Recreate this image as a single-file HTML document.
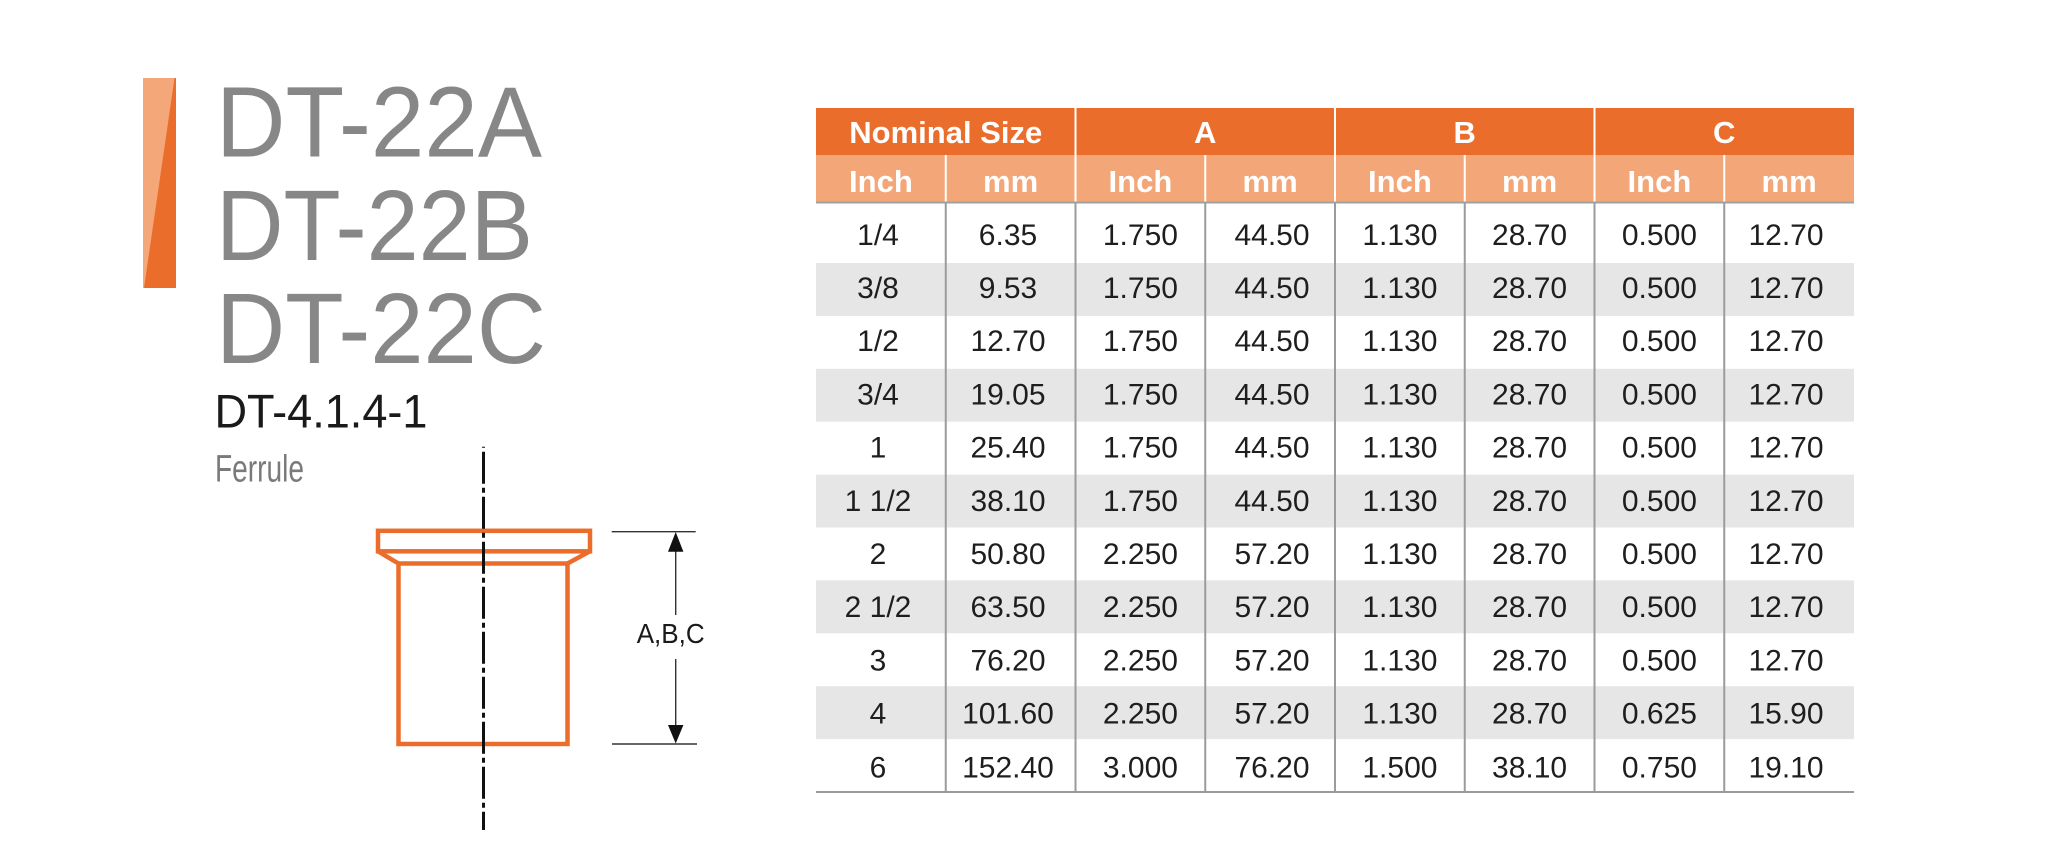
<!DOCTYPE html>
<html>
<head>
<meta charset="utf-8">
<style>
  html,body{margin:0;padding:0;background:#fff;}
  svg{display:block;}
  .t{font-family:"Liberation Sans",sans-serif;}
</style>
</head>
<body>
<svg width="2048" height="868" viewBox="0 0 2048 868" xmlns="http://www.w3.org/2000/svg">
  <rect x="0" y="0" width="2048" height="868" fill="#fff"/>

  <!-- Orange bar -->
  <rect x="143" y="78" width="33" height="210" fill="#f4a87a"/>
  <polygon points="174.5,78 176,78 176,288 144,288" fill="#eb6d2b"/>

  <!-- Titles -->
  <g class="t" fill="#878787" font-size="100">
    <text x="216" y="156.7" textLength="326" lengthAdjust="spacingAndGlyphs">DT-22A</text>
    <text x="216" y="260" textLength="317" lengthAdjust="spacingAndGlyphs">DT-22B</text>
    <text x="216" y="363" textLength="330" lengthAdjust="spacingAndGlyphs">DT-22C</text>
  </g>
  <text class="t" x="214.5" y="427.3" font-size="47.6" fill="#1a1a1a" textLength="213" lengthAdjust="spacingAndGlyphs">DT-4.1.4-1</text>
  <text class="t" x="215" y="481.7" font-size="38" fill="#7a7a7a" textLength="89" lengthAdjust="spacingAndGlyphs">Ferrule</text>

  <!-- Ferrule drawing -->
  <g fill="none" stroke="#ec6d2b" stroke-width="4.5" stroke-linejoin="miter">
    <rect x="378" y="530.8" width="212" height="20.5"/>
    <path d="M378,551.3 L398.5,563.5 L398.5,744 L567.5,744 L567.5,563.5 L590,551.3"/>
    <line x1="398.5" y1="563.5" x2="567.5" y2="563.5"/>
  </g>
  <line x1="483.5" y1="446.7" x2="483.5" y2="830" stroke="#111" stroke-width="3" stroke-dasharray="32 4 5 4" stroke-dashoffset="40"/>

  <!-- Dimension -->
  <g stroke="#333" stroke-width="1.4">
    <line x1="611.7" y1="531.7" x2="695.7" y2="531.7"/>
    <line x1="612" y1="744" x2="697" y2="744"/>
    <line x1="675.7" y1="550" x2="675.7" y2="615"/>
    <line x1="675.7" y1="659" x2="675.7" y2="726"/>
  </g>
  <polygon points="675.7,532 668,551.7 683.4,551.7" fill="#111"/>
  <polygon points="675.7,743.5 668,725 683.4,725" fill="#111"/>
  <text class="t" x="636.7" y="643" font-size="28" fill="#1a1a1a" textLength="68" lengthAdjust="spacingAndGlyphs">A,B,C</text>

  <!-- Table header -->
  <rect x="816" y="108" width="1038" height="47" fill="#eb6d2c"/>
  <rect x="816" y="155" width="1038" height="47" fill="#f3a779"/>
  <g stroke="#fff" stroke-width="2">
    <line x1="1075.5" y1="108" x2="1075.5" y2="202"/>
    <line x1="1335" y1="108" x2="1335" y2="202"/>
    <line x1="1594.5" y1="108" x2="1594.5" y2="202"/>
    <line x1="945.75" y1="155" x2="945.75" y2="202"/>
    <line x1="1205.25" y1="155" x2="1205.25" y2="202"/>
    <line x1="1464.75" y1="155" x2="1464.75" y2="202"/>
    <line x1="1724.25" y1="155" x2="1724.25" y2="202"/>
  </g>
  <g class="t" fill="#fff" font-size="31" font-weight="bold" text-anchor="middle">
    <text x="945.75" y="143">Nominal Size</text>
    <text x="1205.25" y="143">A</text>
    <text x="1464.75" y="143">B</text>
    <text x="1724.25" y="143">C</text>
    <text x="880.9" y="192">Inch</text>
    <text x="1010.6" y="192">mm</text>
    <text x="1140.4" y="192">Inch</text>
    <text x="1270.1" y="192">mm</text>
    <text x="1399.9" y="192">Inch</text>
    <text x="1529.6" y="192">mm</text>
    <text x="1659.4" y="192">Inch</text>
    <text x="1789.1" y="192">mm</text>
  </g>

  <!-- Gray bands -->
  <g fill="#e6e6e6">
    <rect x="816" y="263" width="1038" height="52.9"/>
    <rect x="816" y="368.8" width="1038" height="52.9"/>
    <rect x="816" y="474.6" width="1038" height="52.9"/>
    <rect x="816" y="580.4" width="1038" height="52.9"/>
    <rect x="816" y="686.2" width="1038" height="52.9"/>
  </g>

  <!-- Lines -->
  <line x1="816" y1="202.5" x2="1854" y2="202.5" stroke="#a0a0a0" stroke-width="2"/>
  <line x1="816" y1="792" x2="1854" y2="792" stroke="#9a9a9a" stroke-width="2"/>
  <g stroke="#9b9b9b" stroke-width="2">
    <line x1="945.75" y1="203" x2="945.75" y2="791"/>
    <line x1="1075.5" y1="203" x2="1075.5" y2="791"/>
    <line x1="1205.25" y1="203" x2="1205.25" y2="791"/>
    <line x1="1335" y1="203" x2="1335" y2="791"/>
    <line x1="1464.75" y1="203" x2="1464.75" y2="791"/>
    <line x1="1594.5" y1="203" x2="1594.5" y2="791"/>
    <line x1="1724.25" y1="203" x2="1724.25" y2="791"/>
  </g>

  <!-- Data -->
  <g class="t" fill="#1e1e1e" font-size="30" text-anchor="middle">
    <g transform="translate(0,244.8)">
      <text x="878">1/4</text><text x="1008">6.35</text><text x="1140.4">1.750</text><text x="1272">44.50</text><text x="1399.9">1.130</text><text x="1529.6">28.70</text><text x="1659.4">0.500</text><text x="1786">12.70</text>
    </g>
    <g transform="translate(0,298)">
      <text x="878">3/8</text><text x="1008">9.53</text><text x="1140.4">1.750</text><text x="1272">44.50</text><text x="1399.9">1.130</text><text x="1529.6">28.70</text><text x="1659.4">0.500</text><text x="1786">12.70</text>
    </g>
    <g transform="translate(0,351.2)">
      <text x="878">1/2</text><text x="1008">12.70</text><text x="1140.4">1.750</text><text x="1272">44.50</text><text x="1399.9">1.130</text><text x="1529.6">28.70</text><text x="1659.4">0.500</text><text x="1786">12.70</text>
    </g>
    <g transform="translate(0,404.4)">
      <text x="878">3/4</text><text x="1008">19.05</text><text x="1140.4">1.750</text><text x="1272">44.50</text><text x="1399.9">1.130</text><text x="1529.6">28.70</text><text x="1659.4">0.500</text><text x="1786">12.70</text>
    </g>
    <g transform="translate(0,457.6)">
      <text x="878">1</text><text x="1008">25.40</text><text x="1140.4">1.750</text><text x="1272">44.50</text><text x="1399.9">1.130</text><text x="1529.6">28.70</text><text x="1659.4">0.500</text><text x="1786">12.70</text>
    </g>
    <g transform="translate(0,510.8)">
      <text x="878">1 1/2</text><text x="1008">38.10</text><text x="1140.4">1.750</text><text x="1272">44.50</text><text x="1399.9">1.130</text><text x="1529.6">28.70</text><text x="1659.4">0.500</text><text x="1786">12.70</text>
    </g>
    <g transform="translate(0,564)">
      <text x="878">2</text><text x="1008">50.80</text><text x="1140.4">2.250</text><text x="1272">57.20</text><text x="1399.9">1.130</text><text x="1529.6">28.70</text><text x="1659.4">0.500</text><text x="1786">12.70</text>
    </g>
    <g transform="translate(0,617.2)">
      <text x="878">2 1/2</text><text x="1008">63.50</text><text x="1140.4">2.250</text><text x="1272">57.20</text><text x="1399.9">1.130</text><text x="1529.6">28.70</text><text x="1659.4">0.500</text><text x="1786">12.70</text>
    </g>
    <g transform="translate(0,670.4)">
      <text x="878">3</text><text x="1008">76.20</text><text x="1140.4">2.250</text><text x="1272">57.20</text><text x="1399.9">1.130</text><text x="1529.6">28.70</text><text x="1659.4">0.500</text><text x="1786">12.70</text>
    </g>
    <g transform="translate(0,723.6)">
      <text x="878">4</text><text x="1008">101.60</text><text x="1140.4">2.250</text><text x="1272">57.20</text><text x="1399.9">1.130</text><text x="1529.6">28.70</text><text x="1659.4">0.625</text><text x="1786">15.90</text>
    </g>
    <g transform="translate(0,777.6)">
      <text x="878">6</text><text x="1008">152.40</text><text x="1140.4">3.000</text><text x="1272">76.20</text><text x="1399.9">1.500</text><text x="1529.6">38.10</text><text x="1659.4">0.750</text><text x="1786">19.10</text>
    </g>
  </g>
</svg>
</body>
</html>
